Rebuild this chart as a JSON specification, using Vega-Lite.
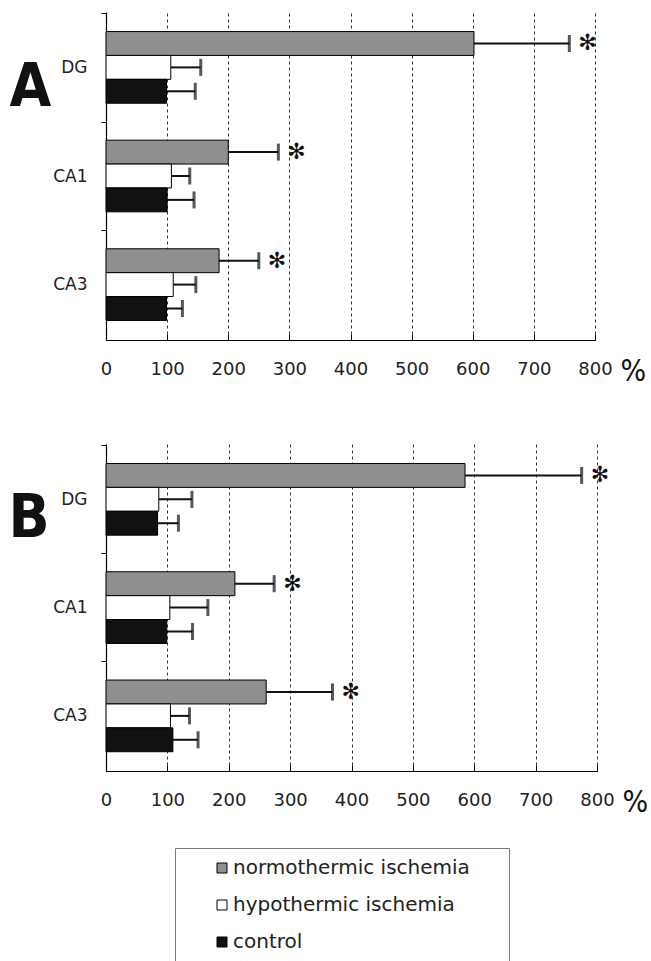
{
  "$schema": "https://vega.github.io/schema/vega-lite/v6.json",
  "padding": {"left": 8, "top": 12, "right": 0, "bottom": 0},
  "background": "white",
  "spacing": 58,
  "config": {
    "view": {"stroke": null},
    "font": "DejaVu Sans",
    "legend": {
      "orient": "none",
      "legendX": 69,
      "legendY": 836,
      "strokeColor": "#777777",
      "strokeWidth": 1,
      "padding": 10,
      "symbolType": "square",
      "symbolSize": 100,
      "symbolStrokeColor": "black",
      "symbolStrokeWidth": 1,
      "labelFontSize": 20,
      "labelFont": "DejaVu Sans",
      "labelColor": "#222222",
      "labelLimit": 400,
      "rowPadding": 17,
      "symbolOffset": 27,
      "labelOffset": 1,
      "titleOrient": "right",
      "titlePadding": 29,
      "titleAngle": 0,
      "titleFontSize": 6
    }
  },
  "datasets": {
    "bars": [
      {"panel": "A", "region": "DG", "group": "normothermic ischemia", "value": 602, "err": 758, "sig": "✻"},
      {"panel": "A", "region": "DG", "group": "hypothermic ischemia", "value": 106, "err": 155, "sig": ""},
      {"panel": "A", "region": "DG", "group": "control", "value": 99, "err": 146, "sig": ""},
      {"panel": "A", "region": "CA1", "group": "normothermic ischemia", "value": 200, "err": 282, "sig": "✻"},
      {"panel": "A", "region": "CA1", "group": "hypothermic ischemia", "value": 107, "err": 137, "sig": ""},
      {"panel": "A", "region": "CA1", "group": "control", "value": 100, "err": 144, "sig": ""},
      {"panel": "A", "region": "CA3", "group": "normothermic ischemia", "value": 185, "err": 250, "sig": "✻"},
      {"panel": "A", "region": "CA3", "group": "hypothermic ischemia", "value": 110, "err": 147, "sig": ""},
      {"panel": "A", "region": "CA3", "group": "control", "value": 99, "err": 125, "sig": ""},
      {"panel": "B", "region": "DG", "group": "normothermic ischemia", "value": 585, "err": 775, "sig": "✻"},
      {"panel": "B", "region": "DG", "group": "hypothermic ischemia", "value": 86, "err": 140, "sig": ""},
      {"panel": "B", "region": "DG", "group": "control", "value": 84, "err": 118, "sig": ""},
      {"panel": "B", "region": "CA1", "group": "normothermic ischemia", "value": 210, "err": 274, "sig": "✻"},
      {"panel": "B", "region": "CA1", "group": "hypothermic ischemia", "value": 104, "err": 166, "sig": ""},
      {"panel": "B", "region": "CA1", "group": "control", "value": 99, "err": 141, "sig": ""},
      {"panel": "B", "region": "CA3", "group": "normothermic ischemia", "value": 261, "err": 369, "sig": "✻"},
      {"panel": "B", "region": "CA3", "group": "hypothermic ischemia", "value": 105, "err": 136, "sig": ""},
      {"panel": "B", "region": "CA3", "group": "control", "value": 109, "err": 150, "sig": ""}
    ]
  },
  "vconcat": [
    {
      "width": 489,
      "height": 328,
      "data": {"name": "bars"},
      "transform": [{"filter": "datum.panel === 'A'"}],
      "encoding": {
        "y": {
          "field": "region", "type": "nominal", "sort": ["DG", "CA1", "CA3"],
          "scale": {"paddingInner": 0.34, "paddingOuter": 0.18},
          "axis": {
            "title": "A", "titleAngle": 0, "titleX": -97, "titleY": 93,
            "titleAlign": "left", "titleBaseline": "alphabetic",
            "titleFont": "DejaVu Sans Condensed, DejaVu Sans", "titleFontSize": 60, "titleFontWeight": "bold", "titleColor": "#111111",
            "labelFontSize": 17, "labelColor": "#222222", "labelPadding": 14,
            "tickSize": 5, "tickColor": "black", "tickOffset": -54.3, "labelOffset": 54.3,
            "domainColor": "black", "domainWidth": 1.2, "grid": false
          }
        },
        "yOffset": {
          "field": "group", "type": "nominal",
          "sort": ["normothermic ischemia", "hypothermic ischemia", "control"],
          "scale": {"paddingInner": 0, "paddingOuter": 0}
        }
      },
      "layer": [
        {
          "mark": {"type": "rule", "strokeWidth": 2, "color": "#111111"},
          "encoding": {
            "x": {
              "field": "value", "type": "quantitative",
              "scale": {"domain": [0, 800], "nice": false},
              "axis": {
                "values": [0, 100, 200, 300, 400, 500, 600, 700, 800],
                "grid": true, "gridDash": [3, 3], "gridColor": "#333333", "gridWidth": 1,
                "domainColor": "black", "domainWidth": 1.2,
                "tickSize": -6, "tickColor": "black",
                "labelFlush": false,
                "labelFontSize": 18, "labelColor": "#222222", "labelPadding": 26,
                "title": "%", "titleX": 514, "titleY": 40, "titleAlign": "left", "titleBaseline": "alphabetic",
                "titleFont": "DejaVu Sans Condensed, DejaVu Sans", "titleFontSize": 30, "titleFontWeight": "normal", "titleColor": "#111111"
              }
            },
            "x2": {"field": "err"}
          }
        },
        {
          "mark": {"type": "tick", "thickness": 3, "size": 17, "color": "#111111"},
          "encoding": {"x": {"field": "err", "type": "quantitative"}}
        },
        {
          "mark": {"type": "bar", "stroke": "black", "strokeWidth": 1},
          "encoding": {
            "x": {"field": "value", "type": "quantitative"},
            "color": {
              "field": "group", "type": "nominal",
              "scale": {"domain": ["normothermic ischemia", "hypothermic ischemia", "control"], "range": ["#8f8f8f", "#ffffff", "#111111"]},
              "legend": {"title": "\u00a0"}
            }
          }
        },
        {
          "mark": {"type": "text", "align": "left", "baseline": "middle", "dx": 9, "fontSize": 22, "font": "DejaVu Sans", "color": "#111111"},
          "encoding": {"x": {"field": "err", "type": "quantitative"}, "text": {"field": "sig"}}
        }
      ]
    },
    {
      "width": 491,
      "height": 327,
      "data": {"name": "bars"},
      "transform": [{"filter": "datum.panel === 'B'"}],
      "encoding": {
        "y": {
          "field": "region", "type": "nominal", "sort": ["DG", "CA1", "CA3"],
          "scale": {"paddingInner": 0.34, "paddingOuter": 0.18},
          "axis": {
            "title": "B", "titleAngle": 0, "titleX": -98, "titleY": 92,
            "titleAlign": "left", "titleBaseline": "alphabetic",
            "titleFont": "DejaVu Sans Condensed, DejaVu Sans", "titleFontSize": 60, "titleFontWeight": "bold", "titleColor": "#111111",
            "labelFontSize": 17, "labelColor": "#222222", "labelPadding": 14,
            "tickSize": 5, "tickColor": "black", "tickOffset": -54.3, "labelOffset": 54.3,
            "domainColor": "black", "domainWidth": 1.2, "grid": false
          }
        },
        "yOffset": {
          "field": "group", "type": "nominal",
          "sort": ["normothermic ischemia", "hypothermic ischemia", "control"],
          "scale": {"paddingInner": 0, "paddingOuter": 0}
        }
      },
      "layer": [
        {
          "mark": {"type": "rule", "strokeWidth": 2, "color": "#111111"},
          "encoding": {
            "x": {
              "field": "value", "type": "quantitative",
              "scale": {"domain": [0, 800], "nice": false},
              "axis": {
                "values": [0, 100, 200, 300, 400, 500, 600, 700, 800],
                "grid": true, "gridDash": [3, 3], "gridColor": "#333333", "gridWidth": 1,
                "domainColor": "black", "domainWidth": 1.2,
                "tickSize": -6, "tickColor": "black",
                "labelFlush": false,
                "labelFontSize": 18, "labelColor": "#222222", "labelPadding": 26,
                "title": "%", "titleX": 516, "titleY": 40, "titleAlign": "left", "titleBaseline": "alphabetic",
                "titleFont": "DejaVu Sans Condensed, DejaVu Sans", "titleFontSize": 30, "titleFontWeight": "normal", "titleColor": "#111111"
              }
            },
            "x2": {"field": "err"}
          }
        },
        {
          "mark": {"type": "tick", "thickness": 3, "size": 17, "color": "#111111"},
          "encoding": {"x": {"field": "err", "type": "quantitative"}}
        },
        {
          "mark": {"type": "bar", "stroke": "black", "strokeWidth": 1},
          "encoding": {
            "x": {"field": "value", "type": "quantitative"},
            "color": {
              "field": "group", "type": "nominal",
              "scale": {"domain": ["normothermic ischemia", "hypothermic ischemia", "control"], "range": ["#8f8f8f", "#ffffff", "#111111"]},
              "legend": {"title": "\u00a0"}
            }
          }
        },
        {
          "mark": {"type": "text", "align": "left", "baseline": "middle", "dx": 9, "fontSize": 22, "font": "DejaVu Sans", "color": "#111111"},
          "encoding": {"x": {"field": "err", "type": "quantitative"}, "text": {"field": "sig"}}
        }
      ]
    }
  ]
}
